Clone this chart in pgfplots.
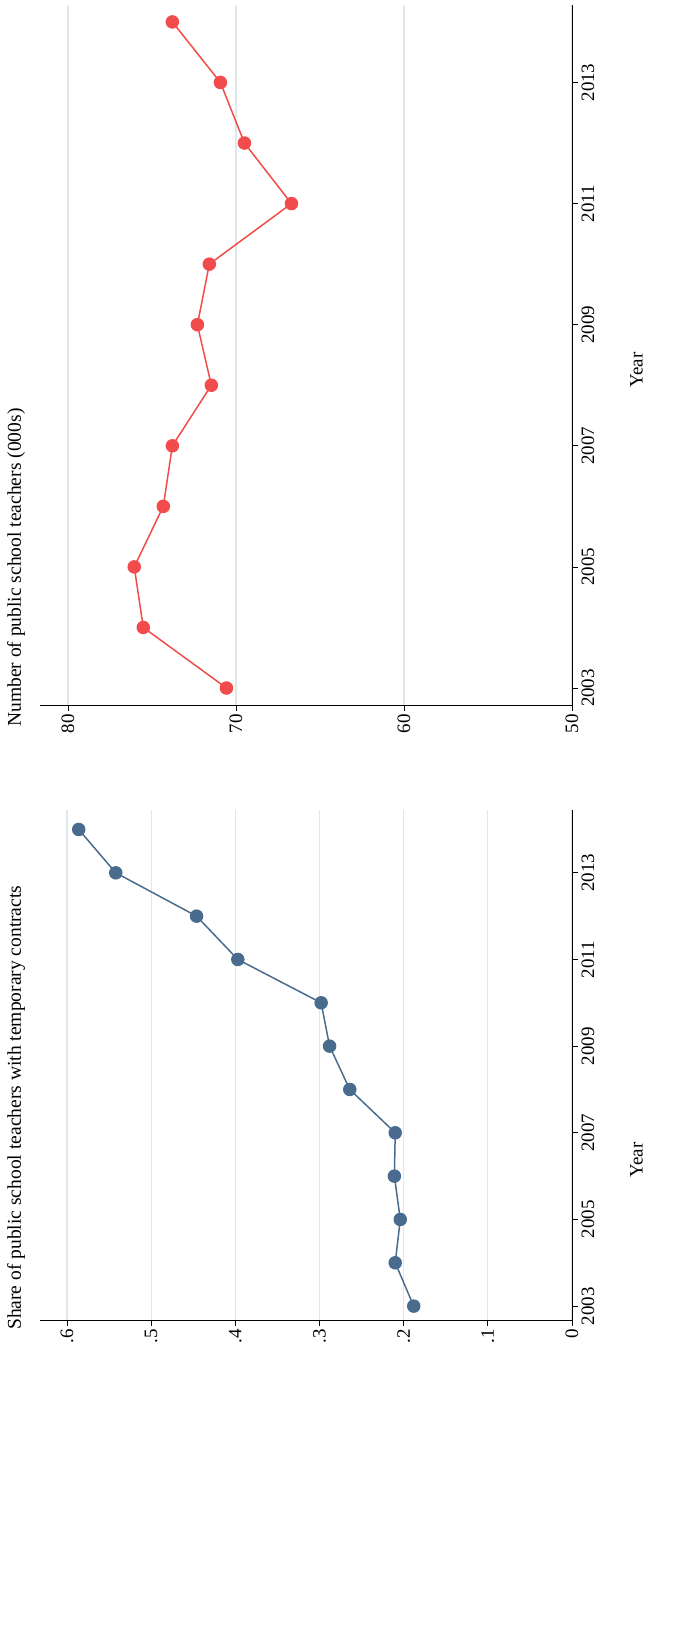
\documentclass[border=0pt]{standalone}
\usepackage{pgfplots}
\pgfplotsset{compat=1.18}
\usepackage{fontspec}
\setmainfont{Liberation Serif}
\definecolor{c1}{HTML}{496C8E}
\definecolor{c2}{HTML}{F24B4B}
\definecolor{gr}{HTML}{DDE9EA}
\pgfplotsset{
  panel/.style={
    scale only axis, anchor=south west,
    x dir=reverse,
    axis x line*=bottom, axis y line*=right,
    xmajorgrids, major x grid style={gr, line width=1.2pt},
    ytick={2003,2005,...,2013},
    tick align=outside, tick style={black, line width=0.8pt},
    major tick length=6bp,
    axis line style={line width=0.8pt},
    xticklabel style={rotate=90, anchor=east, font=\fontsize{19}{21}\selectfont},
    yticklabel style={rotate=90, anchor=north, font=\fontsize{19}{21}\selectfont},
    /pgf/number format/assume math mode=true,
    /pgf/number format/1000 sep={},
    clip=false,
  }
}
\begin{document}
\begin{tikzpicture}[x=1bp,y=1bp]
% panel 1
\begin{axis}[panel, at={(40bp,324bp)}, width=532bp, height=510bp,
  xmin=0, xmax=0.632, ymin=2002.68, ymax=2014.45,
  xtick={0,0.1,...,0.6},
  xticklabels={0,.1,.2,.3,.4,.5,.6}]
\addplot[c1, line width=1.5pt, mark=*, mark size=6bp, mark options={fill=c1}] coordinates {
(0.188,2003)(0.210,2004)(0.204,2005)(0.211,2006)(0.210,2007)(0.264,2008)
(0.288,2009)(0.298,2010)(0.397,2011)(0.446,2012)(0.542,2013)(0.586,2014)};
\end{axis}
% panel 2
\begin{axis}[panel, at={(40bp,939bp)}, width=532bp, height=700bp,
  xmin=50, xmax=81.67, ymin=2002.72, ymax=2014.28,
  xtick={50,60,70,80}]
\addplot[c2, line width=1.5pt, mark=*, mark size=6bp, mark options={fill=c2}] coordinates {
(70.57,2003)(75.52,2004)(76.06,2005)(74.33,2006)(73.79,2007)(71.47,2008)
(72.30,2009)(71.59,2010)(66.70,2011)(69.50,2012)(70.93,2013)(73.79,2014)};
\end{axis}
\node[rotate=90, anchor=north west, font=\fontsize{19.6}{22}\selectfont, inner sep=0] at (7,314) {Share of public school teachers with temporary contracts};
\node[rotate=90, anchor=north west, font=\fontsize{19.6}{22}\selectfont, inner sep=0] at (7,917) {Number of public school teachers (000s)};
\node[rotate=90, anchor=north, font=\fontsize{19}{21}\selectfont, inner sep=0] at (630,484) {Year};
\node[rotate=90, anchor=north, font=\fontsize{19}{21}\selectfont, inner sep=0] at (630,1274) {Year};
\pgfresetboundingbox
\useasboundingbox (0,0) rectangle (683,1644);
\end{tikzpicture}
\end{document}
